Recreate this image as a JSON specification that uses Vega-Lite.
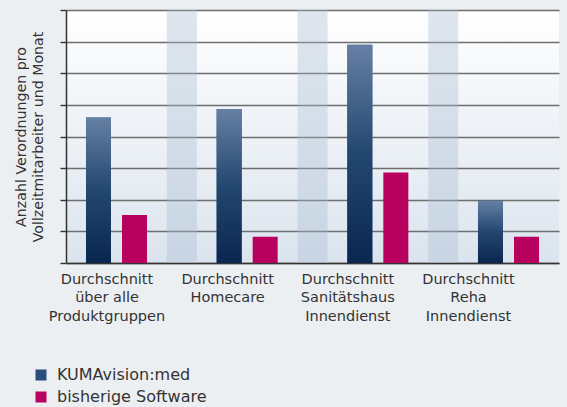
{
  "$schema": "https://vega.github.io/schema/vega-lite/v6.json",
  "width": 493,
  "height": 253,
  "autosize": "none",
  "padding": {"left": 66, "top": 10, "right": 8, "bottom": 144},
  "background": "#eceff2",
  "config": {
    "font": "DejaVu Sans",
    "view": {
      "stroke": null,
      "fill": {"gradient": "linear", "x1": 0, "y1": 0, "x2": 0, "y2": 1,
        "stops": [{"offset": 0, "color": "#ffffff"}, {"offset": 1, "color": "#dbe4ee"}]}
    }
  },
  "datasets": {
    "bars": [
      {"gruppe": "Durchschnitt|über alle|Produktgruppen", "serie": "KUMAvision:med", "wert": 4.6},
      {"gruppe": "Durchschnitt|über alle|Produktgruppen", "serie": "bisherige Software", "wert": 1.52},
      {"gruppe": "Durchschnitt|Homecare", "serie": "KUMAvision:med", "wert": 4.87},
      {"gruppe": "Durchschnitt|Homecare", "serie": "bisherige Software", "wert": 0.83},
      {"gruppe": "Durchschnitt|Sanitätshaus|Innendienst", "serie": "KUMAvision:med", "wert": 6.9},
      {"gruppe": "Durchschnitt|Sanitätshaus|Innendienst", "serie": "bisherige Software", "wert": 2.86},
      {"gruppe": "Durchschnitt|Reha|Innendienst", "serie": "KUMAvision:med", "wert": 1.97},
      {"gruppe": "Durchschnitt|Reha|Innendienst", "serie": "bisherige Software", "wert": 0.83}
    ],
    "stripes": [
      {"gruppe": "Durchschnitt|Homecare"},
      {"gruppe": "Durchschnitt|Sanitätshaus|Innendienst"},
      {"gruppe": "Durchschnitt|Reha|Innendienst"}
    ]
  },
  "encoding": {
    "x": {
      "field": "gruppe", "type": "nominal",
      "scale": {
        "domain": ["Durchschnitt|über alle|Produktgruppen", "Durchschnitt|Homecare", "Durchschnitt|Sanitätshaus|Innendienst", "Durchschnitt|Reha|Innendienst"],
        "paddingInner": 0.533, "paddingOuter": 0.153
      },
      "axis": {
        "title": null, "labelAngle": 0, "ticks": false,
        "domainColor": "#333333", "domainWidth": 1.5,
        "labelExpr": "split(datum.value, '|')",
        "labelFontSize": 14.5, "labelLineHeight": 18.7, "labelColor": "#333333",
        "labelPadding": 9,
        "labelOffset": {
          "condition": [
            {"test": "indexof(datum.value, 'Produktgruppen') >= 0", "value": -9.5},
            {"test": "indexof(datum.value, 'Homecare') >= 0", "value": -19.5},
            {"test": "indexof(datum.value, 'Sanitätshaus') >= 0", "value": -30}
          ],
          "value": -40
        }
      }
    },
    "y": {
      "field": "wert", "type": "quantitative",
      "scale": {"domain": [0, 8], "nice": false},
      "axis": {
        "values": [0, 1, 2, 3, 4, 5, 6, 7, 8], "tickCount": 20,
        "labels": false, "grid": true, "gridColor": "#6e6e6e", "gridWidth": 1.3,
        "tickColor": "#333333", "tickSize": 6, "tickWidth": 1.4,
        "domainColor": "#333333", "domainWidth": 1.5,
        "title": ["Anzahl Verordnungen pro", "Vollzeitmitarbeiter und Monat"],
        "titleFontSize": 14.2, "titleFontWeight": "normal", "titleColor": "#333333",
        "titleLineHeight": 17, "titlePadding": 14
      }
    }
  },
  "layer": [
    {
      "data": {"name": "stripes"},
      "mark": {"type": "rule", "color": "#a9bcd2", "strokeWidth": 30, "opacity": 0.37},
      "encoding": {"x": {"field": "gruppe", "type": "nominal", "bandPosition": -0.57}, "y": null}
    },
    {
      "data": {"name": "bars"},
      "mark": {"type": "bar"},
      "encoding": {
        "xOffset": {"field": "serie", "type": "nominal",
          "scale": {"domain": ["KUMAvision:med", "bisherige Software"], "paddingInner": 0.3056, "paddingOuter": 0}},
        "color": {
          "field": "serie", "type": "nominal",
          "scale": {"domain": ["KUMAvision:med", "bisherige Software"], "range": ["#2a4d7c", "#b8005e"]},
          "legend": {
            "title": null, "orient": "none", "legendX": -33, "legendY": 357,
            "symbolType": "square", "symbolSize": 121, "symbolStrokeWidth": 0,
            "labelFontSize": 16, "labelColor": "#333333", "labelOffset": 8, "rowPadding": 6
          }
        }
      }
    },
    {
      "data": {"name": "bars"},
      "transform": [{"filter": "datum.serie === 'KUMAvision:med'"}],
      "mark": {
        "type": "bar",
        "color": {"gradient": "linear", "x1": 0, "y1": 0, "x2": 0, "y2": 1,
          "stops": [{"offset": 0, "color": "#6680a4"}, {"offset": 0.5, "color": "#234770"}, {"offset": 1, "color": "#0a2650"}]}
      },
      "encoding": {
        "xOffset": {"field": "serie", "type": "nominal"}
      }
    }
  ]
}
